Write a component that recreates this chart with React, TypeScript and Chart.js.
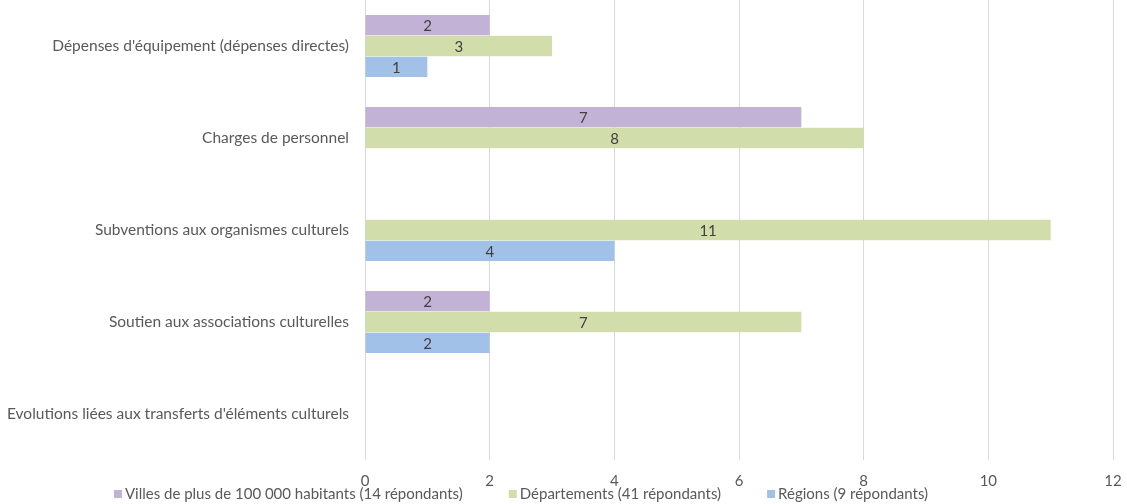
import React, { useEffect, useRef } from "react";
import { Chart, registerables } from "chart.js";

Chart.register(...registerables);

const categories = [
  "Dépenses d'équipement (dépenses directes)",
  "Charges de personnel",
  "Subventions aux organismes culturels",
  "Soutien aux associations culturelles",
  "Evolutions liées aux transferts d'éléments culturels",
];

const villes = [2, 7, null, 2, null];
const departements = [3, 8, 11, 7, null];
const regions = [1, null, 4, 2, null];

const seriesNames = [
  "Villes de plus de 100 000 habitants (14 répondants)",
  "Départements (41 répondants)",
  "Régions (9 répondants)",
];
const seriesColors = ["#C2B2D5", "#D1DDAA", "#A2C1E8"];

const FONT = "Lato, 'Open Sans', sans-serif";
const TEXT = "#595959";
const FS = 15;

const valueLabels = {
  id: "valueLabels",
  afterDatasetsDraw(chart: any) {
    const ctx = chart.ctx;
    ctx.save();
    ctx.font = `${FS}px ${FONT}`;
    ctx.fillStyle = "#404040";
    ctx.textAlign = "center";
    ctx.textBaseline = "middle";
    chart.data.datasets.forEach((ds: any, i: number) => {
      const meta = chart.getDatasetMeta(i);
      meta.data.forEach((bar: any, j: number) => {
        const v = ds.data[j];
        if (v === null || v === undefined) return;
        const x = (bar.x + bar.base) / 2;
        ctx.fillText(String(v), x, bar.y + 1);
      });
    });
    ctx.restore();
  },
};

const bottomLegend = {
  id: "bottomLegend",
  afterDraw(chart: any) {
    const ctx = chart.ctx;
    ctx.save();
    ctx.font = `${FS}px ${FONT}`;
    ctx.textBaseline = "middle";
    ctx.textAlign = "left";
    const box = 8;
    const boxGap = 3;
    const itemGap = 46;
    const items = chart.data.datasets.map((ds: any) => ({
      text: ds.label,
      color: ds.backgroundColor,
      w: box + boxGap + ctx.measureText(ds.label).width,
    }));
    const total = items.reduce((a: number, it: any) => a + it.w, 0) + itemGap * (items.length - 1);
    let x = 521 - total / 2;
    const y = chart.height - 10;
    items.forEach((it: any) => {
      ctx.fillStyle = it.color;
      ctx.fillRect(x, y - box / 2, box, box);
      ctx.fillStyle = TEXT;
      ctx.fillText(it.text, x + box + boxGap, y);
      x += it.w + itemGap;
    });
    ctx.restore();
  },
};

export default function App() {
  const ref = useRef<HTMLCanvasElement | null>(null);
  useEffect(() => {
    document.body.style.margin = "0";
    const chart = new Chart(ref.current as HTMLCanvasElement, {
      type: "bar",
      data: {
        labels: categories,
        datasets: [
          { label: seriesNames[0], data: villes, backgroundColor: seriesColors[0], borderWidth: 0 },
          { label: seriesNames[1], data: departements, backgroundColor: seriesColors[1], borderWidth: 0 },
          { label: seriesNames[2], data: regions, backgroundColor: seriesColors[2], borderWidth: 0 },
        ],
      },
      options: {
        indexAxis: "y",
        animation: false,
        responsive: false,
        maintainAspectRatio: false,
        layout: { padding: { left: 0, right: 14, top: 0, bottom: 16 } },
        datasets: { bar: { categoryPercentage: 0.68, barPercentage: 0.98 } },
        scales: {
          x: {
            min: 0,
            max: 12,
            ticks: { stepSize: 2, color: TEXT, font: { family: FONT, size: FS }, padding: 12 },
            grid: { color: "#D9D9D9", lineWidth: 1, drawTicks: false },
            border: { display: false },
            afterFit: (s: any) => {
              s.height = 28;
              s.paddingLeft = 0;
              s.paddingRight = 0;
            },
          },
          y: {
            ticks: { color: TEXT, font: { family: FONT, size: 15.5 }, padding: 16 },
            grid: { display: false, drawTicks: false },
            border: { display: false },
            afterFit: (s: any) => {
              s.width = 365;
              s.paddingTop = 0;
              s.paddingBottom = 0;
            },
          },
        },
        plugins: {
          legend: { display: false },
          tooltip: { enabled: false },
        },
      },
      plugins: [valueLabels, bottomLegend],
    } as any);
    return () => chart.destroy();
  }, []);
  return (
    <div style={{ position: "fixed", left: 0, top: 0, width: 1127, height: 504 }}>
      <canvas ref={ref} width={1127} height={504} />
    </div>
  );
}
